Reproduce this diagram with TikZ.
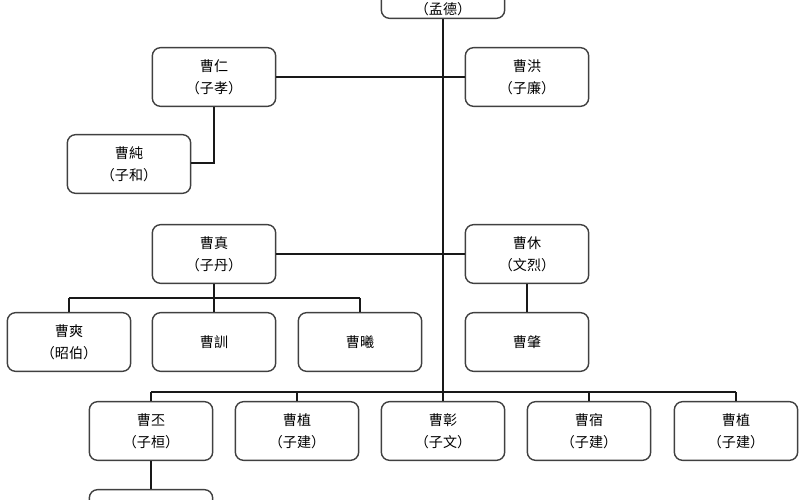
\documentclass[tikz,border=0pt]{standalone}
\usepackage{fontspec}
\setmainfont{Noto Sans CJK SC}
\begin{document}
\begin{tikzpicture}[x=0.03cm,y=-0.03cm,
  person/.style={draw=black!75, line width=1.2pt, rounded corners=7pt,
    minimum width=3.7cm, minimum height=1.76cm, align=center,
    font=\fontsize{12}{19}\selectfont, text=black, inner sep=0pt},
  link/.style={line width=1.8pt, black!90}]
\useasboundingbox (0,0) rectangle (800,500);
\clip (0,0) rectangle (800,500);
\fill[white] (0,0) rectangle (800,500);
% top
\node[person] (cao) at (443,-11) {};
\node[font=\fontsize{12}{19}\selectfont, inner sep=0pt, anchor=south] (caolabel) at (443,16) {（孟德）};
% row 1
\node[person] (ren) at (214,77) {曹仁\\（子孝）};
\node[person] (hong) at (527,77) {曹洪\\（子廉）};
\node[person] (chun) at (129,164) {曹純\\（子和）};
% row 2
\node[person] (zhen) at (214,254) {曹真\\（子丹）};
\node[person] (xiu) at (527,254) {曹休\\（文烈）};
% row 3
\node[person] (shuang) at (69,342) {曹爽\\（昭伯）};
\node[person] (xun) at (214,342) {曹訓};
\node[person] (xi) at (360,342) {曹曦};
\node[person] (zhao) at (527,342) {曹肇};
% row 4
\node[person] (pi) at (151,431) {曹丕\\（子桓）};
\node[person] (zhi) at (297,431) {曹植\\（子建）};
\node[person] (zhang) at (443,431) {曹彰\\（子文）};
\node[person] (su) at (589,431) {曹宿\\（子建）};
\node[person] (zhi2) at (736,431) {曹植\\（子建）};
% row 5
\node[person] (rui) at (151,519) {};
% coordinates
\coordinate (bus) at (443,392);
\coordinate (zbus) at (214,298);
\coordinate (rbend) at (214,163);
% connectors
\draw[link] (cao.south) -- (bus);
\draw[link] (ren.east) -- (hong.west);
\draw[link] (zhen.east) -- (xiu.west);
\draw[link] (ren.south) -- (rbend) -- (chun.east |- rbend);
\draw[link] (zhen.south) -- (zbus);
\draw[link] (shuang.north |- zbus) -- (xi.north |- zbus);
\draw[link] (shuang.north |- zbus) -- (shuang.north);
\draw[link] (xun.north |- zbus) -- (xun.north);
\draw[link] (xi.north |- zbus) -- (xi.north);
\draw[link] (xiu.south) -- (zhao.north);
\draw[link] (pi.north |- bus) -- (zhi2.north |- bus);
\foreach \n in {pi,zhi,zhang,su,zhi2}
  \draw[link] (\n.north |- bus) -- (\n.north);
\draw[link] (pi.south) -- (rui.north);
\end{tikzpicture}
\end{document}
